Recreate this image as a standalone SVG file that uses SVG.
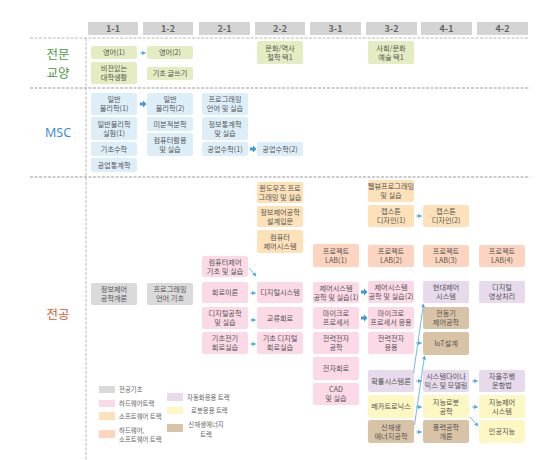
<svg xmlns="http://www.w3.org/2000/svg" width="555" height="460" viewBox="0 0 555 460">
<style>
text{font-family:"Noto Sans CJK KR","Noto Sans",sans-serif}
.t{font-size:7.2px;fill:#555;text-anchor:middle}
.hd{font-size:9px;fill:#666;text-anchor:middle;font-weight:bold}
.hr{fill:#d4d4d4}
.b{rx:2;ry:2}
.ge{fill:#e4edc2}
.ms{fill:#ddeef9}
.gr{fill:#dadada}
.hw{fill:#fcd9e6}
.sw{fill:#fde1b9}
.hs{fill:#fcd4bf}
.au{fill:#e7daec}
.ro{fill:#fdf7c4}
.re{fill:#d9c3a7}
.sec{font-size:12.5px;text-anchor:middle}
.lg{font-size:6.4px;fill:#666}
.thin{stroke:#4aaae0;stroke-width:0.8;fill:none;marker-end:url(#ah)}
.thick{fill:#3c9ad8}
.dl{stroke:#b8b8b8;stroke-width:1;stroke-dasharray:3 1.5;fill:none}
.dl2{stroke:#9a9a9a;stroke-width:1.2;stroke-dasharray:3 1.5;fill:none}
</style>
<defs>
<marker id="ah" markerWidth="4" markerHeight="4" refX="3.5" refY="2" orient="auto" markerUnits="userSpaceOnUse">
<path d="M0,0 L4,2 L0,4 Z" fill="#4aaae0"/>
</marker>
</defs>
<rect width="555" height="460" fill="#fff"/>

<g id="headers">
<rect class="hr" x="88" y="22" width="50" height="13"/><text class="hd" x="113" y="32">1-1</text>
<rect class="hr" x="143" y="22" width="50" height="13"/><text class="hd" x="168" y="32">1-2</text>
<rect class="hr" x="199" y="22" width="51" height="13"/><text class="hd" x="224.5" y="32">2-1</text>
<rect class="hr" x="255" y="22" width="50" height="13"/><text class="hd" x="280" y="32">2-2</text>
<rect class="hr" x="310" y="22" width="51" height="13"/><text class="hd" x="335.5" y="32">3-1</text>
<rect class="hr" x="366" y="22" width="51" height="13"/><text class="hd" x="391.5" y="32">3-2</text>
<rect class="hr" x="421" y="22" width="51" height="13"/><text class="hd" x="446.5" y="32">4-1</text>
<rect class="hr" x="477" y="22" width="51" height="13"/><text class="hd" x="502.5" y="32">4-2</text>
</g>

<g id="grid">
<line class="dl" x1="30" y1="38" x2="528" y2="38"/>
<line class="dl2" x1="30" y1="88" x2="530" y2="88"/>
<line class="dl2" x1="30" y1="177" x2="530" y2="177"/>
<line class="dl" x1="86" y1="38" x2="86" y2="460" stroke-width="1.3"/>
</g>

<g id="sections">
<text class="sec" x="58" y="58.5" fill="#4a9a3a">전문</text>
<text class="sec" x="58" y="77.5" fill="#4a9a3a">교양</text>
<text class="sec" x="58" y="137" fill="#3a8fd6" style="font-family:'Noto Sans',sans-serif">MSC</text>
<text class="sec" x="58" y="319" fill="#d85a30">전공</text>
</g>

<g id="n1"><rect class="b ge" x="91" y="46" width="46" height="13"/><text class="t" x="114" y="55.1">영어(1)</text></g>
<g id="n2"><rect class="b ge" x="91" y="62" width="46" height="22"/><text class="t" x="114" y="71.1">비전있는</text><text class="t" x="114" y="80.1">대학생활</text></g>
<g id="n3"><rect class="b ge" x="147" y="46" width="46" height="13"/><text class="t" x="170" y="55.1">영어(2)</text></g>
<g id="n4"><rect class="b ge" x="147" y="67" width="46" height="13"/><text class="t" x="170" y="76.1">기초 글쓰기</text></g>
<g id="n5"><rect class="b ge" x="257" y="41" width="46" height="23"/><text class="t" x="280" y="50.6">문화/역사</text><text class="t" x="280" y="59.6">철학 택1</text></g>
<g id="n6"><rect class="b ge" x="368" y="41" width="46" height="23"/><text class="t" x="391" y="50.6">사회/문화</text><text class="t" x="391" y="59.6">예술 택1</text></g>

<g id="n7"><rect class="b ms" x="91" y="93" width="46" height="22"/><text class="t" x="114" y="102.1">일반</text><text class="t" x="114" y="111.1">물리학(1)</text></g>
<g id="n8"><rect class="b ms" x="91" y="117" width="46" height="23"/><text class="t" x="114" y="126.6">일반물리학</text><text class="t" x="114" y="135.6">실험(1)</text></g>
<g id="n9"><rect class="b ms" x="91" y="142" width="46" height="14"/><text class="t" x="114" y="151.6">기초수학</text></g>
<g id="n10"><rect class="b ms" x="91" y="158" width="46" height="14"/><text class="t" x="114" y="167.6">공업통계학</text></g>
<g id="n11"><rect class="b ms" x="147" y="93" width="46" height="22"/><text class="t" x="170" y="102.1">일반</text><text class="t" x="170" y="111.1">물리학(2)</text></g>
<g id="n12"><rect class="b ms" x="147" y="117" width="46" height="14"/><text class="t" x="170" y="126.6">미분적분학</text></g>
<g id="n13"><rect class="b ms" x="147" y="133" width="46" height="23"/><text class="t" x="170" y="142.6">컴퓨터활용</text><text class="t" x="170" y="151.6">및 실습</text></g>
<g id="n14"><rect class="b ms" x="202" y="93" width="46" height="22"/><text class="t" x="225" y="102.1">프로그래밍</text><text class="t" x="225" y="111.1">언어 및 실습</text></g>
<g id="n15"><rect class="b ms" x="202" y="117" width="46" height="23"/><text class="t" x="225" y="126.6">정보통계학</text><text class="t" x="225" y="135.6">및 실습</text></g>
<g id="n16"><rect class="b ms" x="202" y="142" width="46" height="14"/><text class="t" x="225" y="151.6">공업수학(1)</text></g>
<g id="n17"><rect class="b ms" x="257" y="142" width="46" height="14"/><text class="t" x="280" y="151.6">공업수학(2)</text></g>

<g id="n18"><rect class="b gr" x="91" y="283" width="46" height="22"/><text class="t" x="114" y="292.1">정보제어</text><text class="t" x="114" y="301.1">공학개론</text></g>
<g id="n19"><rect class="b gr" x="147" y="283" width="46" height="22"/><text class="t" x="170" y="292.1">프로그래밍</text><text class="t" x="170" y="301.1">언어 기초</text></g>
<g id="n20"><rect class="b sw" x="257" y="182" width="46" height="21"/><text class="t" x="280" y="190.6">윈도우즈 프로</text><text class="t" x="280" y="199.6">그래밍 및 실습</text></g>
<g id="n21"><rect class="b sw" x="257" y="206" width="46" height="21"/><text class="t" x="280" y="214.6">정보제어공학</text><text class="t" x="280" y="223.6">설계입문</text></g>
<g id="n22"><rect class="b sw" x="257" y="230" width="46" height="23"/><text class="t" x="280" y="239.6">컴퓨터</text><text class="t" x="280" y="248.6">제어시스템</text></g>
<g id="n23"><rect class="b hw" x="202" y="256" width="46" height="21"/><text class="t" x="225" y="264.6">컴퓨터제어</text><text class="t" x="225" y="273.6">기초 및 실습</text></g>
<g id="n24"><rect class="b hw" x="202" y="282" width="46" height="21"/><text class="t" x="225" y="295.1">회로이론</text></g>
<g id="n25"><rect class="b hw" x="257" y="282" width="46" height="21"/><text class="t" x="280" y="295.1">디지털시스템</text></g>
<g id="n26"><rect class="b hs" x="313" y="244" width="46" height="23"/><text class="t" x="336" y="253.6">프로젝트</text><text class="t" x="336" y="262.6">LAB(1)</text></g>
<g id="n27"><rect class="b hw" x="313" y="282" width="46" height="21"/><text class="t" x="336" y="290.6">제어시스템</text><text class="t" x="336" y="299.6">공학 및 실습(1)</text></g>
<g id="n28"><rect class="b hw" x="202" y="307" width="46" height="22"/><text class="t" x="225" y="316.1">디지털공학</text><text class="t" x="225" y="325.1">및 실습</text></g>
<g id="n29"><rect class="b hw" x="257" y="307" width="46" height="22"/><text class="t" x="280" y="320.6">교류회로</text></g>
<g id="n30"><rect class="b hw" x="202" y="332" width="46" height="22"/><text class="t" x="225" y="341.1">기초전기</text><text class="t" x="225" y="350.1">회로실습</text></g>
<g id="n31"><rect class="b hw" x="257" y="332" width="46" height="22"/><text class="t" x="280" y="341.1">기초 디지털</text><text class="t" x="280" y="350.1">회로실습</text></g>
<g id="n32"><rect class="b hw" x="313" y="307" width="46" height="22"/><text class="t" x="336" y="316.1">마이크로</text><text class="t" x="336" y="325.1">프로세서</text></g>
<g id="n33"><rect class="b hw" x="313" y="332" width="46" height="22"/><text class="t" x="336" y="341.1">전력전자</text><text class="t" x="336" y="350.1">공학</text></g>
<g id="n34"><rect class="b hw" x="313" y="357" width="46" height="23"/><text class="t" x="336" y="371.1">전자회로</text></g>
<g id="n35"><rect class="b hw" x="313" y="383" width="46" height="22"/><text class="t" x="336" y="392.1">CAD</text><text class="t" x="336" y="401.1">및 실습</text></g>
<g id="n36"><rect class="b sw" x="368" y="180" width="46" height="22"/><text class="t" x="391" y="189.1">웹뷰프로그래밍</text><text class="t" x="391" y="198.1">및 실습</text></g>
<g id="n37"><rect class="b sw" x="368" y="205" width="46" height="22"/><text class="t" x="391" y="214.1">캡스톤</text><text class="t" x="391" y="223.1">디자인(1)</text></g>
<g id="n38"><rect class="b sw" x="423" y="205" width="46" height="22"/><text class="t" x="446" y="214.1">캡스톤</text><text class="t" x="446" y="223.1">디자인(2)</text></g>
<g id="n39"><rect class="b hs" x="368" y="245" width="46" height="22"/><text class="t" x="391" y="254.1">프로젝트</text><text class="t" x="391" y="263.1">LAB(2)</text></g>
<g id="n40"><rect class="b hs" x="423" y="245" width="46" height="22"/><text class="t" x="446" y="254.1">프로젝트</text><text class="t" x="446" y="263.1">LAB(3)</text></g>
<g id="n41"><rect class="b hs" x="479" y="245" width="46" height="22"/><text class="t" x="502" y="254.1">프로젝트</text><text class="t" x="502" y="263.1">LAB(4)</text></g>
<g id="n42"><rect class="b hw" x="368" y="281" width="46" height="22"/><text class="t" x="391" y="290.1">제어시스템</text><text class="t" x="391" y="299.1">공학 및 실습(2)</text></g>
<g id="n43"><rect class="b au" x="423" y="281" width="46" height="22"/><text class="t" x="446" y="290.1">현대제어</text><text class="t" x="446" y="299.1">시스템</text></g>
<g id="n44"><rect class="b au" x="479" y="281" width="46" height="22"/><text class="t" x="502" y="290.1">디지털</text><text class="t" x="502" y="299.1">영상처리</text></g>
<g id="n45"><rect class="b hw" x="368" y="307" width="46" height="22"/><text class="t" x="391" y="316.1">마이크로</text><text class="t" x="391" y="325.1">프로세서 응용</text></g>
<g id="n46"><rect class="b hw" x="368" y="332" width="46" height="22"/><text class="t" x="391" y="341.1">전력전자</text><text class="t" x="391" y="350.1">응용</text></g>
<g id="n47"><rect class="b re" x="423" y="307" width="46" height="22"/><text class="t" x="446" y="316.1">전동기</text><text class="t" x="446" y="325.1">제어공학</text></g>
<g id="n48"><rect class="b re" x="423" y="332" width="46" height="23"/><text class="t" x="446" y="346.1">IoT설계</text></g>
<g id="n49"><rect class="b au" x="368" y="370" width="46" height="22"/><text class="t" x="391" y="383.6">확률시스템론</text></g>
<g id="n50"><rect class="b ro" x="368" y="395" width="46" height="23"/><text class="t" x="391" y="409.1">메카트로닉스</text></g>
<g id="n51"><rect class="b re" x="368" y="420" width="46" height="23"/><text class="t" x="391" y="429.6">신재생</text><text class="t" x="391" y="438.6">에너지공학</text></g>
<g id="n52"><rect class="b au" x="423" y="370" width="46" height="22"/><text class="t" x="446" y="379.1">시스템다이나</text><text class="t" x="446" y="388.1">믹스 및 모델링</text></g>
<g id="n53"><rect class="b ro" x="423" y="395" width="46" height="23"/><text class="t" x="446" y="404.6">지능로봇</text><text class="t" x="446" y="413.6">공학</text></g>
<g id="n54"><rect class="b re" x="423" y="420" width="46" height="23"/><text class="t" x="446" y="429.6">풍력공학</text><text class="t" x="446" y="438.6">개론</text></g>
<g id="n55"><rect class="b au" x="479" y="370" width="46" height="22"/><text class="t" x="502" y="379.1">자율주행</text><text class="t" x="502" y="388.1">운항법</text></g>
<g id="n56"><rect class="b ro" x="479" y="395" width="46" height="23"/><text class="t" x="502" y="404.6">지능제어</text><text class="t" x="502" y="413.6">시스템</text></g>
<g id="n57"><rect class="b ro" x="479" y="420" width="46" height="23"/><text class="t" x="502" y="434.1">인공지능</text></g>

<g id="connectors">
<line class="thin" x1="140" y1="53" x2="145.5" y2="53"/>
<polygon class="thick" points="140,102.5 143,102.5 143,100.5 146.5,104 143,107.5 143,105.5 140,105.5"/>
<polygon class="thick" points="250,147.5 253,147.5 253,145.5 256.5,149 253,152.5 253,150.5 250,150.5"/>
<line class="thin" x1="249" y1="268" x2="256" y2="276"/>
<line class="thin" x1="250" y1="293" x2="255.5" y2="293"/>
<line class="thin" x1="250" y1="320" x2="255.5" y2="320"/>
<line class="thin" x1="250" y1="344" x2="255.5" y2="344"/>
<polygon class="thick" points="361,290.5 364,290.5 364,288.5 367.5,292 364,295.5 364,293.5 361,293.5"/>
<polygon class="thick" points="361,316.5 364,316.5 364,314.5 367.5,318 364,321.5 364,319.5 361,319.5"/>
<line class="thin" x1="416" y1="216" x2="421.5" y2="216"/>
<line class="thin" x1="416" y1="343" x2="421.5" y2="343"/>
<line class="thin" x1="416" y1="381" x2="421.5" y2="381"/>
<line class="thin" x1="416" y1="407" x2="421.5" y2="407"/>
<line class="thin" x1="416" y1="432" x2="421.5" y2="432"/>
<line class="thin" x1="472" y1="381" x2="477.5" y2="381"/>
<line class="thin" x1="472" y1="407" x2="477.5" y2="407"/>
<line class="thin" x1="470" y1="417" x2="478" y2="426"/>
<line class="thin" x1="413.5" y1="373" x2="423.5" y2="304"/>
<line class="thin" x1="414.5" y1="425" x2="424.5" y2="356"/>
</g>

<g id="legend">
<rect class="gr" x="99" y="386" width="16" height="7"/><text class="lg" x="119" y="392">전공기초</text>
<rect class="hw" x="99" y="400" width="16" height="7"/><text class="lg" x="119" y="406">하드웨어트랙</text>
<rect class="sw" x="99" y="412" width="16" height="8"/><text class="lg" x="119" y="418.5">소프트웨어 트랙</text>
<rect class="hs" x="99" y="430" width="16" height="8"/><text class="lg" x="119" y="432.5">하드웨어,</text><text class="lg" x="119" y="441.5">소프트웨어 트랙</text>
<rect class="au" x="167" y="393" width="16" height="8"/><text class="lg" x="187" y="399.5">자동화응용 트랙</text>
<rect class="ro" x="167" y="407" width="16" height="7"/><text class="lg" x="191" y="413">로봇응용 트랙</text>
<rect class="re" x="167" y="424" width="16" height="8"/><text class="lg" x="206" y="426.5" text-anchor="middle">신재생에너지</text><text class="lg" x="206" y="436.5" text-anchor="middle">트랙</text>
</g>
</svg>
